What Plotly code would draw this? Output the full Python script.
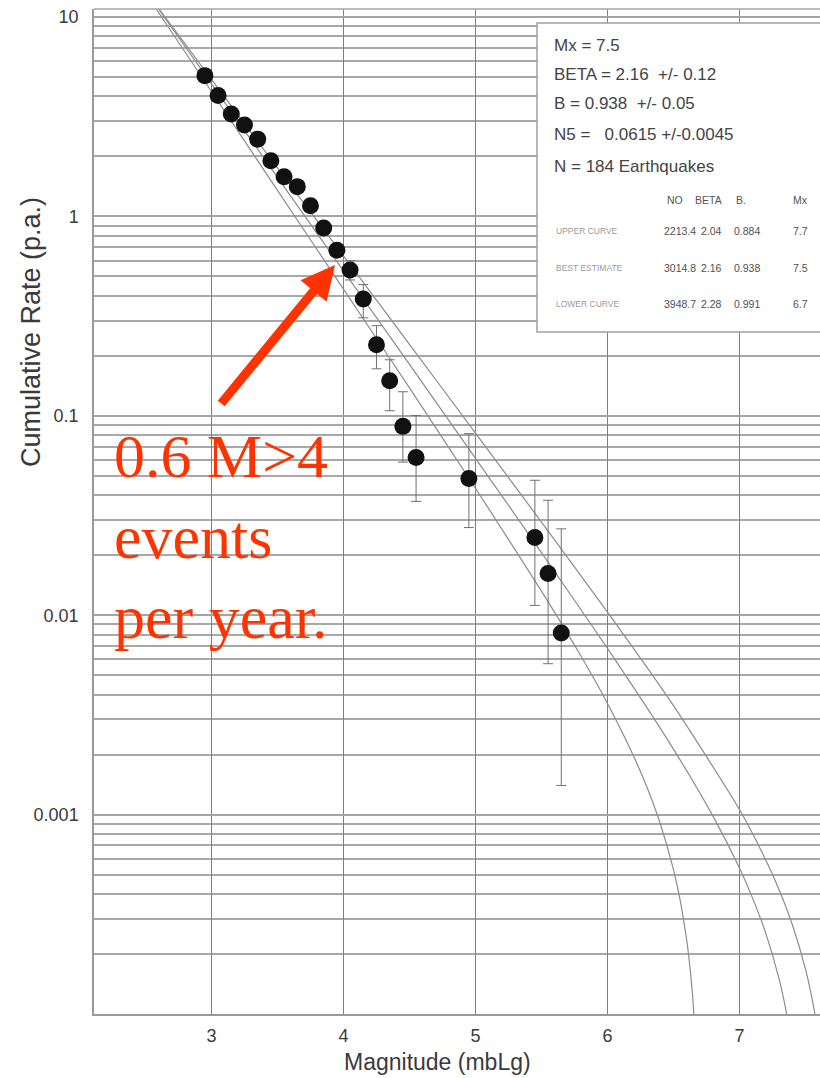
import plotly.graph_objects as go

# ---------------- data ----------------
magnitude = [2.95, 3.05, 3.15, 3.25, 3.35, 3.45, 3.55, 3.65, 3.75, 3.85, 3.95,
             4.05, 4.15, 4.25, 4.35, 4.45, 4.55, 4.95, 5.45, 5.55, 5.65]
cum_rate = [5.08, 4.04, 3.26, 2.87, 2.44, 1.90, 1.58, 1.41, 1.13, 0.875, 0.676,
            0.539, 0.385, 0.227, 0.150, 0.0885, 0.0618, 0.0485, 0.0245, 0.0162, 0.00815]
rate_upper = [5.40, 4.30, 3.47, 3.05, 2.60, 2.02, 1.68, 1.50, 1.20, 0.93, 0.72,
              0.60, 0.455, 0.283, 0.191, 0.132, 0.1004, 0.0813, 0.0475, 0.0377, 0.0271]
rate_lower = [4.78, 3.80, 3.07, 2.70, 2.29, 1.79, 1.49, 1.33, 1.06, 0.82, 0.635,
              0.48, 0.310, 0.172, 0.106, 0.0586, 0.0372, 0.0275, 0.0112, 0.00571, 0.00140]

curve_upper_m = [2.4, 2.5, 3.0, 3.5, 4.0, 4.5, 5.0, 5.5, 6.0, 6.5, 7.0, 7.2, 7.3, 7.4,
                 7.5, 7.55, 7.6, 7.65]
curve_upper_rate = [16.5, 13.5, 4.87, 1.75, 0.633, 0.228, 0.0819, 0.0293, 0.01036, 0.00352,
                    0.00106, 0.00059, 0.00042, 0.000281, 0.000168, 0.000119, 0.0000754, 0.0000357]

curve_best_m = [2.4, 2.5, 3.0, 3.5, 4.0, 4.5, 5.0, 5.5, 6.0, 6.5, 6.8, 7.0, 7.1, 7.2,
                7.3, 7.35, 7.4]
curve_best_rate = [16.9, 13.6, 4.62, 1.57, 0.533, 0.181, 0.0612, 0.0206, 0.00681, 0.00213,
                   0.00098, 0.00054, 0.00038, 0.000253, 0.000150, 0.000106, 0.000067]

curve_lower_m = [2.4, 2.5, 3.0, 3.5, 4.0, 4.5, 5.0, 5.5, 5.8, 6.0, 6.2, 6.3, 6.4, 6.5,
                 6.55, 6.6, 6.62, 6.65, 6.68]
curve_lower_rate = [16.6, 13.2, 4.23, 1.35, 0.432, 0.138, 0.0433, 0.0132, 0.00622, 0.00361,
                    0.00195, 0.001366, 0.00090, 0.00053, 0.000374, 0.000235, 0.000184,
                    0.000111, 0.000043]

x_tick_vals = [3, 4, 5, 6, 7]
y_tick_vals = [0.001, 0.01, 0.1, 1, 10]
y_tick_text = ["0.001", "0.01", "0.1", "1", "10"]
y_minor_mult = [2, 3, 4, 5, 6, 7, 8, 9]
y_minor_decades = [-4, -3, -2, -1, 0, 1]

stats_lines = ["Mx = 7.5",
               "BETA = 2.16\u00a0 +/- 0.12",
               "B = 0.938\u00a0 +/- 0.05",
               "N5 = \u00a0 0.0615 +/-0.0045",
               "N = 184 Earthquakes"]
table_header = ["NO", "BETA", "B.", "Mx"]
table_rows = ["UPPER CURVE", "BEST ESTIMATE", "LOWER CURVE"]
table_NO = ["2213.4", "3014.8", "3948.7"]
table_BETA = ["2.04", "2.16", "2.28"]
table_B = ["0.884", "0.938", "0.991"]
table_Mx = ["7.7", "7.5", "6.7"]

note_text = "0.6 M>4<br>events<br>per year."

# ---------------- layout geometry ----------------
W, H = 820, 1078
ML, MR, MT, MB = 94, 0, 9, 64
PW, PH = W - ML - MR, H - MT - MB


def px(x):
    return (x - ML) / PW


def py(y):
    return (H - MB - y) / PH


FONT = "Liberation Sans, Arial, sans-serif"
curve_color = "#8c8c8c"

fig = go.Figure()

for cm, cr in [(curve_upper_m, curve_upper_rate),
               (curve_best_m, curve_best_rate),
               (curve_lower_m, curve_lower_rate)]:
    fig.add_trace(go.Scatter(x=cm, y=cr, mode="lines",
                             line=dict(color=curve_color, width=1.2, shape="spline", smoothing=0.6),
                             hoverinfo="skip", showlegend=False))

fig.add_trace(go.Scatter(
    x=magnitude, y=cum_rate, mode="markers",
    marker=dict(size=17, color="#111111"),
    error_y=dict(type="data", symmetric=False,
                 array=[u - r for u, r in zip(rate_upper, cum_rate)],
                 arrayminus=[r - l for r, l in zip(cum_rate, rate_lower)],
                 color="#707070", thickness=1, width=5),
    showlegend=False))

minor_vals = [m * 10 ** d for d in y_minor_decades for m in y_minor_mult]

fig.update_layout(
    width=W, height=H,
    margin=dict(l=ML, r=MR, t=MT, b=MB),
    paper_bgcolor="white", plot_bgcolor="white",
    showlegend=False,
    font=dict(family=FONT, color="#3a3a3a"),
    xaxis=dict(range=[2.11, 7.61], tickvals=x_tick_vals, showgrid=True,
               gridcolor="#808080", gridwidth=1, zeroline=False,
               showline=True, linecolor="#9a9a9a", linewidth=2,
               ticks="", tickfont=dict(size=18, color="#3a3a3a", family=FONT),
               ticklabelstandoff=4),
    yaxis=dict(type="log", range=[-4, 1.04], tickvals=y_tick_vals, ticktext=y_tick_text,
               showgrid=True, gridcolor="#a4a4a4", gridwidth=1.6, zeroline=False,
               showline=True, linecolor="#9a9a9a", linewidth=1.5,
               ticks="", tickfont=dict(size=18, color="#3a3a3a", family=FONT),
               ticklabelstandoff=10,
               minor=dict(tickvals=minor_vals, showgrid=True, gridcolor="#a8a8a8",
                          gridwidth=1.6, ticks="")),
)

shapes = [
    dict(type="line", xref="paper", yref="paper", x0=0, x1=1, y0=1, y1=1,
         line=dict(color="#a4a4a4", width=1.5)),
    dict(type="rect", xref="paper", yref="paper", x0=px(537), x1=px(835),
         y0=py(332), y1=py(23), fillcolor="white",
         line=dict(color="#a0a0a0", width=1.5), layer="above"),
]
fig.update_layout(shapes=shapes)

ann = []
stat_y = [45, 74, 103, 134, 166]
for t, yy in zip(stats_lines, stat_y):
    ann.append(dict(xref="paper", yref="paper", x=px(552), y=py(yy), text=t,
                    showarrow=False, xanchor="left", yanchor="middle",
                    font=dict(size=17, color="#444444", family=FONT)))

head_x = [675, 708, 741, 800]
for t, xx in zip(table_header, head_x):
    ann.append(dict(xref="paper", yref="paper", x=px(xx), y=py(200), text=t,
                    showarrow=False, xanchor="center", yanchor="middle",
                    font=dict(size=10.5, color="#555555", family=FONT)))

row_y = [231, 268, 304]
for i, yy in enumerate(row_y):
    ann.append(dict(xref="paper", yref="paper", x=px(554), y=py(yy), text=table_rows[i],
                    showarrow=False, xanchor="left", yanchor="middle",
                    font=dict(size=8.5, color="#9a9a9a", family=FONT)))
    for vals, xx in [(table_NO, 680), (table_BETA, 711), (table_B, 747), (table_Mx, 800)]:
        ann.append(dict(xref="paper", yref="paper", x=px(xx), y=py(yy), text=vals[i],
                        showarrow=False, xanchor="center", yanchor="middle",
                        font=dict(size=10.5, color="#505050", family=FONT)))

# axis titles
ann.append(dict(xref="paper", yref="paper", x=px(437), y=py(1062),
                text="Magnitude (mbLg)", showarrow=False, xanchor="center", yanchor="middle",
                font=dict(size=23, color="#3a3a3a", family=FONT)))
ann.append(dict(xref="paper", yref="paper", x=px(31), y=py(332),
                text="Cumulative Rate (p.a.)", showarrow=False, textangle=-90,
                xanchor="center", yanchor="middle",
                font=dict(size=27, color="#3a3a3a", family=FONT)))

# red note and arrow
ann.append(dict(xref="paper", yref="paper", x=px(112), y=py(420), text=note_text,
                showarrow=False, xanchor="left", yanchor="top", align="left",
                font=dict(size=62, color="#FF3300",
                          family="Liberation Serif, Times New Roman, serif")))
ann.append(dict(xref="paper", yref="paper", x=px(335), y=py(265), text="",
                showarrow=True, ax=-115, ay=140, arrowhead=2, arrowsize=0.75,
                arrowwidth=9, arrowcolor="#FF3300", standoff=0))

fig.update_layout(annotations=ann)

fig.write_html("out.html")
